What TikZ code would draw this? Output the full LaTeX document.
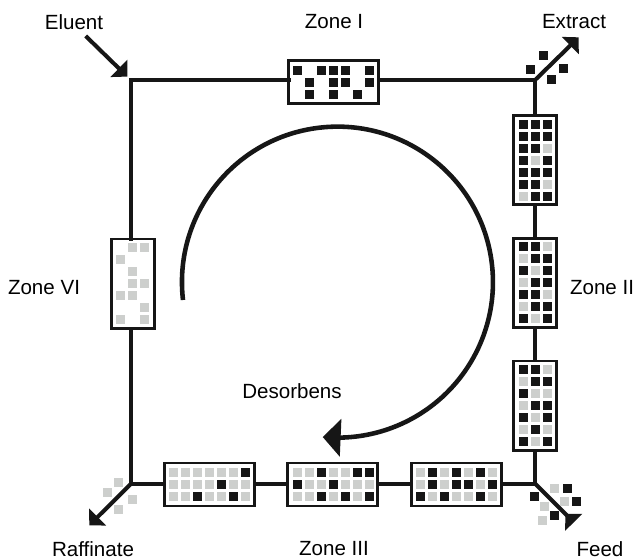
\documentclass[tikz,border=0pt]{standalone}
\usepackage{fontspec}
\setmainfont{Liberation Sans}
\usetikzlibrary{arrows.meta, positioning, calc}

\definecolor{inkdark}{HTML}{161616}
\definecolor{inkgray}{HTML}{CDCFCD}

\newcommand{\cellgrid}[3]{%
  \foreach \rowcells [count=\ry from 0] in {#3}
    \foreach \cellc [count=\cx from 0] in \rowcells
      \path[cell\cellc] ({#1+12*\cx},{#2+12*\ry}) +(-4.5,-4.5) rectangle +(4.5,4.5);}

\begin{document}
\begin{tikzpicture}[x=0.02cm, y=-0.02cm,
          font=\fontsize{11.7}{14}\selectfont,
          pipe/.style={draw=inkdark, line width=2.3pt},
          portflow/.style={draw=inkdark, line width=2.3pt, -{Triangle[length=6.7pt, width=13.4pt, fill=inkdark]}},
          portback/.style={draw=inkdark, line width=2.3pt, -{Triangle[reversed, length=6.7pt, width=13.4pt, fill=inkdark]}},
          hzone/.style={rectangle, draw=inkdark, fill=white, line width=1.6pt, minimum width=51pt, minimum height=24.4pt, inner sep=0pt, outer sep=0pt},
          vzone/.style={rectangle, draw=inkdark, fill=white, line width=1.6pt, minimum width=24.4pt, minimum height=51pt, inner sep=0pt, outer sep=0pt},
          cellK/.style={fill=inkdark},
          cellG/.style={fill=inkgray},
          cellO/.style={}]

        \useasboundingbox (0,0) rectangle (639,559);

        \coordinate (jeluent) at (131,79.8);
        \coordinate (jextract) at (535.3,79.8);
        \coordinate (jfeed) at (535.3,483.7);
        \coordinate (jraffinate) at (131,483.7);
        \coordinate (eluentstart) at (85.7,36);
        \coordinate (eluenttip) at (127.3,76.6);
        \coordinate (extracttip) at (578.7,37.3);
        \coordinate (rafftip) at (89.3,525.3);
        \coordinate (feedend) at (573.7,522.3);

        \node [hzone] (z1) at (333.7,82) {};
        \node [vzone] (z2a) at (535.3,160) {};
        \node [vzone] (z2b) at (535.3,283) {};
        \node [vzone] (z2c) at (535.3,405.7) {};
        \node [hzone] (z3a) at (456.7,484.5) {};
        \node [hzone] (z3b) at (332.7,484.5) {};
        \node [hzone] (z3c) at (209.7,484.5) {};
        \node [vzone] (z6) at (133,283.7) {};

        \draw [pipe, line cap=rect] (jeluent) -- (jeluent -| z1.west);
        \draw [pipe] (z1.east |- jextract) -- (jextract);
        \draw [pipe] (jextract) -- (z2a);
        \draw [pipe] (z2a) -- (z2b);
        \draw [pipe] (z2b) -- (z2c);
        \draw [pipe] (z2c) -- (jfeed);
        \draw [pipe] (jfeed) -- (jfeed -| z3a.east);
        \draw [pipe] (z3a.west |- jfeed) -- (jfeed -| z3b.east);
        \draw [pipe] (z3b.west |- jfeed) -- (jfeed -| z3c.east);
        \draw [pipe] (z3c.west |- jfeed) -- (jraffinate);
        \draw [pipe] (jraffinate) -- (jraffinate |- z6.south);
        \draw [pipe, line cap=rect] (jeluent |- z6.north) -- (jeluent);

        \draw [portflow] (eluentstart) -- (eluenttip);
        \draw [portflow] (jextract) -- (extracttip);
        \draw [portflow] (jraffinate) -- (rafftip);
        \draw [portback] (jfeed) -- (feedend);

        \cellgrid{297.5}{70.3}{{K,O,K,K,K,O,K},{O,K,O,K,K,O,K},{O,K,O,K,O,K,O}}
        \cellgrid{523.3}{124.3}{{K,K,K},{K,K,K},{K,K,G},{K,G,K},{K,K,K},{K,K,G},{G,K,K}}
        \cellgrid{523.3}{246.3}{{K,K,G},{G,K,K},{K,G,K},{G,K,K},{K,K,G},{G,K,K},{K,G,K}}
        \cellgrid{523.3}{369.3}{{K,K,G},{G,K,K},{K,G,G},{G,K,K},{K,G,K},{G,K,G},{K,G,K}}
        \cellgrid{420.3}{472.3}{{G,K,G,K,G,K,G},{G,K,G,K,K,G,K},{K,G,K,G,G,K,G}}
        \cellgrid{297.3}{472.3}{{G,G,K,G,G,K,K},{K,G,G,K,G,G,G},{G,G,K,G,K,G,K}}
        \cellgrid{173.3}{472.3}{{G,G,G,G,G,G,K},{G,G,G,G,K,G,G},{G,G,K,G,G,K,G}}
        \cellgrid{120.3}{247.3}{{O,G,G},{G,O,O},{O,G,O},{O,G,G},{G,G,O},{O,O,G},{G,O,G}}

        \foreach \cx/\cy in {530.3/69, 543.3/55, 563.3/68.3, 551.3/79,
                             534.3/496, 567.3/488.3, 576.3/501.3, 554.3/515.3}
          \path[cellK] (\cx,\cy) +(-4.5,-4.5) rectangle +(4.5,4.5);
        \foreach \cx/\cy in {118.3/482.3, 107.3/492.3, 132.3/499.3, 118.3/509.3,
                             554.3/488.3, 544.3/506, 564.7/501.3, 542.3/520.3}
          \path[cellG] (\cx,\cy) +(-4.5,-4.5) rectangle +(4.5,4.5);

        \coordinate (flowstart) at (183,300);
        \draw [draw=inkdark, line width=2.6pt, -{Triangle[length=10.2pt, width=21pt, fill=inkdark]}]
          (flowstart) arc[start angle=173.4, end angle=450, radius=155.5] -- (322.7,437);

        \node (eluent) at (74,22) {Eluent};
        \node (zonei) at (334,22) {Zone I};
        \node (extract) at (574,22) {Extract};
        \node (zonevi) at (44,288) {Zone VI};
        \node (zoneii) at (602,288) {Zone II};
        \node (desorbens) at (292,391) {Desorbens};
        \node (raffinate) at (93,549) {Raffinate};
        \node (zoneiii) at (334,549) {Zone III};
        \node (feed) at (600,549) {Feed};
      \end{tikzpicture}
\end{document}
